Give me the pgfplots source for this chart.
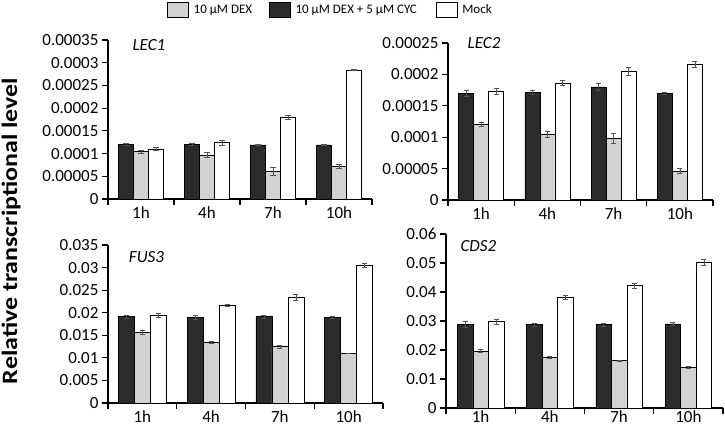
\documentclass[border=0pt]{standalone}
\usepackage{pgfplots}
\pgfplotsset{compat=1.18}
\usepackage{pgfplotstable}
\usepackage{fontspec}
\setmainfont{Carlito}
\newfontfamily\ylabfont{Carlito}[FakeStretch=1.18]
\definecolor{dk}{HTML}{2B2B2B}
\definecolor{lg}{HTML}{D2D2D2}
\definecolor{eb}{HTML}{555555}

\pgfplotstableread{
x dk dke lg lge wh whe
1 0.000120 0.000002 0.000104 0.000003 0.000110 0.000003
2 0.000120 0.000003 0.000097 0.000005 0.000124 0.000005
3 0.000119 0.000002 0.000061 0.000008 0.000180 0.000005
4 0.000119 0.000001 0.000072 0.000004 0.000284 0.000001
}\lecone
\pgfplotstableread{
x dk dke lg lge wh whe
1 0.000170 0.000005 0.000120 0.000003 0.000173 0.000005
2 0.000171 0.000003 0.000104 0.000005 0.000186 0.000004
3 0.000180 0.000005 0.000098 0.000008 0.000205 0.000006
4 0.000170 0.000002 0.000046 0.000004 0.000216 0.000004
}\lectwo
\pgfplotstableread{
x dk dke lg lge wh whe
1 0.0191 0.0004 0.0157 0.0004 0.0194 0.0005
2 0.0190 0.0004 0.0135 0.0002 0.0216 0.0003
3 0.0191 0.0004 0.0125 0.0003 0.0234 0.0007
4 0.0190 0.0003 0.0110 0.0001 0.0305 0.0004
}\fusthree
\pgfplotstableread{
x dk dke lg lge wh whe
1 0.0288 0.0010 0.0196 0.0005 0.0298 0.0008
2 0.0288 0.0005 0.0174 0.0003 0.0382 0.0008
3 0.0288 0.0005 0.0163 0.0002 0.0422 0.0008
4 0.0290 0.0005 0.0140 0.0002 0.0502 0.0010
}\cdstwo

\pgfplotsset{
  panel/.style={
    scale only axis, xmin=0.5, xmax=4.5, ymin=0,
    ybar=0pt,
    axis x line*=bottom, axis y line*=left,
    axis line style={line width=1.6pt, -},
    xtick={0.5,1.5,2.5,3.5,4.5}, xticklabels={},
    extra x ticks={1,2,3,4}, extra x tick labels={1h,4h,7h,10h},
    extra x tick style={tick style={draw=none}, tick label style={yshift=2pt}},
    tick align=outside, major tick length=6pt,
    tick style={black, line width=1.2pt},
    scaled y ticks=false,
    ticklabel style={font=\fontsize{17}{20}\selectfont},
    clip=false,
  },
  ebar/.style={error bars/.cd, y dir=both, y explicit,
    error bar style={eb, line width=0.7pt},
    error mark options={rotate=90, eb, mark size=2.6pt, line width=0.7pt}},
}
\tikzset{gene/.style={font=\itshape\fontsize{17}{20}\selectfont}}

\begin{document}
\begin{tikzpicture}
\useasboundingbox (0,0) rectangle (725pt,431pt);

% legend
\begin{axis}[hide axis, scale only axis, at={(167pt,416pt)}, anchor=south west,
  width=10pt, height=10pt, xmin=0, xmax=1, ymin=0, ymax=1,
  legend image code/.code={\draw[#1, line width=0.6pt] (0pt,-7.5pt) rectangle (21pt,7.5pt); \path (26pt,0pt);},
  legend style={at={(0,0.5)}, anchor=west, draw=none, fill=none,
    inner sep=0pt, font=\fontsize{13}{15}\selectfont, legend columns=3,
    /tikz/column sep=0pt, nodes={inner xsep=0pt}},
  legend cell align=left]
\addlegendimage{fill=lg, draw=black}
\addlegendimage{fill=dk, draw=black}
\addlegendimage{fill=white, draw=black}
\legend{10 µM DEX\hspace*{17pt}, 10 µM DEX + 5 µM CYC\hspace*{19pt}, Mock}
\end{axis}

% LEC1
\begin{axis}[panel, at={(108pt,232pt)}, anchor=south west, width=264pt, height=159pt,
  bar width=15pt, ymax=0.00035,
  ytick={0,0.00005,0.0001,0.00015,0.0002,0.00025,0.0003,0.00035},
  yticklabels={0,0.00005,0.0001,0.00015,0.0002,0.00025,0.0003,0.00035}]
\addplot[fill=dk, draw=black, line width=0.6pt, ebar] table[x=x,y=dk,y error=dke]{\lecone};
\addplot[fill=lg, draw=black, line width=0.6pt, ebar] table[x=x,y=lg,y error=lge]{\lecone};
\addplot[fill=white, draw=black, line width=0.6pt, ebar] table[x=x,y=wh,y error=whe]{\lecone};
\node[gene] at (rel axis cs:0.155,0.97) {LEC1};
\end{axis}

% LEC2
\begin{axis}[panel, at={(448pt,231pt)}, anchor=south west, width=265pt, height=157pt,
  bar width=15pt, ymax=0.00025,
  ytick={0,0.00005,0.0001,0.00015,0.0002,0.00025},
  yticklabels={0,0.00005,0.0001,0.00015,0.0002,0.00025}]
\addplot[fill=dk, draw=black, line width=0.6pt, ebar] table[x=x,y=dk,y error=dke]{\lectwo};
\addplot[fill=lg, draw=black, line width=0.6pt, ebar] table[x=x,y=lg,y error=lge]{\lectwo};
\addplot[fill=white, draw=black, line width=0.6pt, ebar] table[x=x,y=wh,y error=whe]{\lectwo};
\node[gene] at (rel axis cs:0.136,0.997) {LEC2};
\end{axis}

% FUS3
\begin{axis}[panel, at={(108pt,28pt)}, anchor=south west, width=275pt, height=158pt,
  bar width=16pt, ymax=0.035,
  ytick={0,0.005,0.01,0.015,0.02,0.025,0.03,0.035},
  yticklabels={0,0.005,0.01,0.015,0.02,0.025,0.03,0.035}]
\addplot[fill=dk, draw=black, line width=0.6pt, ebar] table[x=x,y=dk,y error=dke]{\fusthree};
\addplot[fill=lg, draw=black, line width=0.6pt, ebar] table[x=x,y=lg,y error=lge]{\fusthree};
\addplot[fill=white, draw=black, line width=0.6pt, ebar] table[x=x,y=wh,y error=whe]{\fusthree};
\node[gene] at (rel axis cs:0.14,0.924) {FUS3};
\end{axis}

% CDS2
\begin{axis}[panel, at={(446pt,23pt)}, anchor=south west, width=277pt, height=174pt,
  bar width=15.5pt, ymax=0.06,
  extra x tick style={tick style={draw=none}, tick label style={yshift=5pt}},
  ytick={0,0.01,0.02,0.03,0.04,0.05,0.06},
  yticklabels={0,0.01,0.02,0.03,0.04,0.05,0.06}]
\addplot[fill=dk, draw=black, line width=0.6pt, ebar] table[x=x,y=dk,y error=dke]{\cdstwo};
\addplot[fill=lg, draw=black, line width=0.6pt, ebar] table[x=x,y=lg,y error=lge]{\cdstwo};
\addplot[fill=white, draw=black, line width=0.6pt, ebar] table[x=x,y=wh,y error=whe]{\cdstwo};
\node[gene] at (rel axis cs:0.117,0.931) {CDS2};
\end{axis}

\node[rotate=90, font=\ylabfont\bfseries\fontsize{22}{24}\selectfont] at (11pt,200pt) {Relative transcriptional level};
\end{tikzpicture}
\end{document}
